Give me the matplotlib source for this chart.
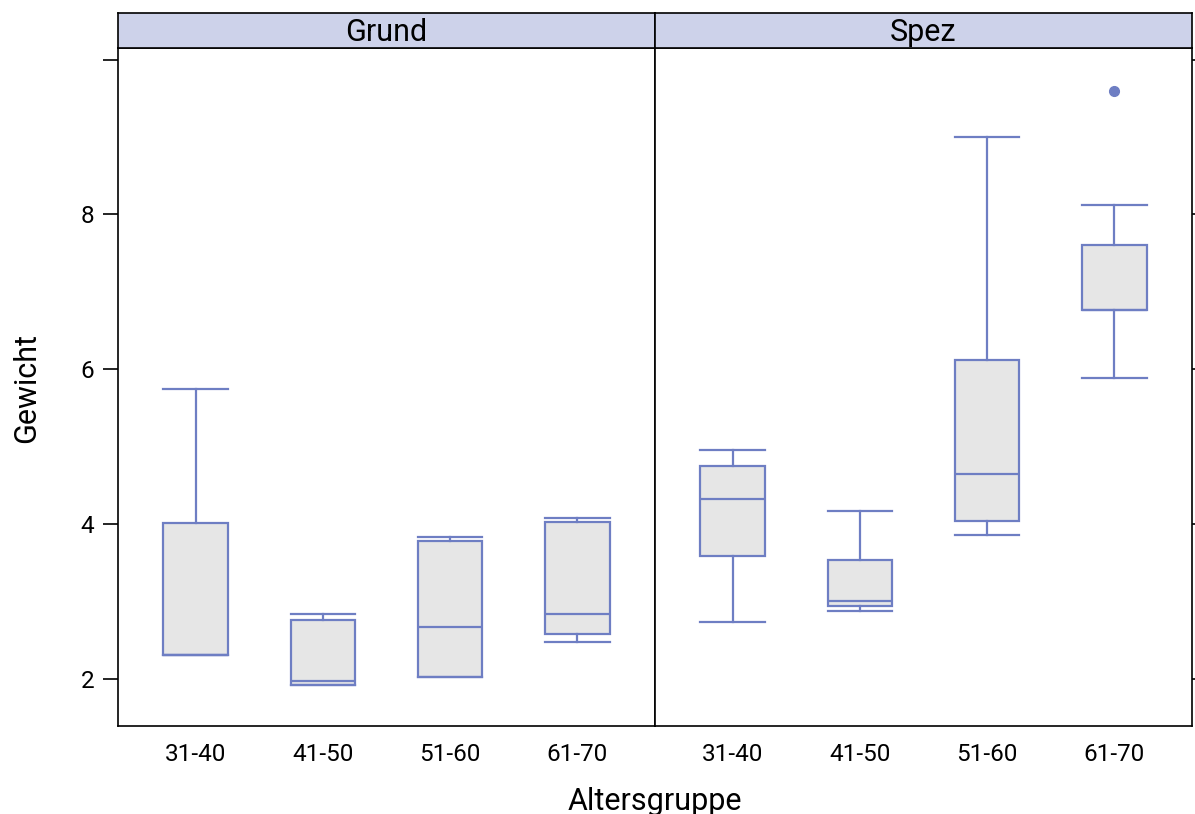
import matplotlib
matplotlib.use("Agg")
import matplotlib.pyplot as plt

plt.rcParams['font.family'] = ['Roboto', 'DejaVu Sans']

groups = ["31-40", "41-50", "51-60", "61-70"]
panels = ["Grund", "Spez"]

# five-number summaries per panel: [min whisker, Q1, median, Q3, max whisker]
grund_lo  = [2.31, 1.92, 2.02, 2.47]
grund_q1  = [2.31, 1.92, 2.02, 2.58]
grund_med = [2.31, 1.97, 2.67, 2.84]
grund_q3  = [4.01, 2.76, 3.78, 4.02]
grund_hi  = [5.75, 2.84, 3.83, 4.08]
grund_out = [[], [], [], []]

spez_lo  = [2.73, 2.87, 3.86, 5.88]
spez_q1  = [3.59, 2.94, 4.04, 6.77]
spez_med = [4.32, 3.00, 4.64, 6.77]
spez_q3  = [4.75, 3.53, 6.12, 7.60]
spez_hi  = [4.96, 4.17, 9.00, 8.12]
spez_out = [[], [], [], [9.60]]

data = {
    "Grund": (grund_lo, grund_q1, grund_med, grund_q3, grund_hi, grund_out),
    "Spez": (spez_lo, spez_q1, spez_med, spez_q3, spez_hi, spez_out),
}

yticks = [2, 4, 6, 8, 10]
ytick_labels = ["2", "4", "6", "8", ""]

blue = "#6E7EC3"
fill = "#E6E6E6"
strip_col = "#CDD2EA"

W, H = 1195, 814
fig = plt.figure(figsize=(W / 100, H / 100), dpi=100)

left, right = 118 / W, 1192 / W
bottom, top = 1 - 726 / H, 1 - 48 / H
strip_top = 1 - 13 / H
pw = (right - left) / 2

for i, name in enumerate(panels):
    ax = fig.add_axes([left + i * pw, bottom, pw, top - bottom])
    lo, q1, med, q3, hi, out = data[name]
    stats = []
    for j in range(len(groups)):
        stats.append(dict(whislo=lo[j], q1=q1[j], med=med[j], q3=q3[j],
                          whishi=hi[j], fliers=out[j], label=groups[j]))
    ax.bxp(stats, positions=range(1, len(groups) + 1), widths=0.506,
           patch_artist=True, showfliers=True,
           boxprops=dict(facecolor=fill, edgecolor=blue, linewidth=1.6),
           medianprops=dict(color=blue, linewidth=1.6),
           whiskerprops=dict(color=blue, linewidth=1.6, linestyle='-'),
           capprops=dict(color=blue, linewidth=1.6),
           capwidths=0.506,
           flierprops=dict(marker='o', markerfacecolor=blue, markeredgecolor=blue,
                           markersize=7))
    ax.set_xlim(0.39, 4.61)
    ax.set_ylim(1.39, 10.15)
    for s in ax.spines.values():
        s.set_linewidth(1.2)
        s.set_color("black")
    ax.set_yticks(yticks)
    ax.tick_params(axis='x', length=0, labelsize=17.5, pad=12)
    if i == 0:
        ax.set_yticklabels(ytick_labels)
        ax.tick_params(axis='y', direction='out', length=11, width=1.2,
                       labelsize=17.5, pad=6, left=True, right=False)
    else:
        ax.tick_params(axis='y', direction='out', length=11, width=1.2,
                       left=False, right=True, labelleft=False)
    # strip
    sax = fig.add_axes([left + i * pw, top, pw, strip_top - top])
    sax.set_xticks([]); sax.set_yticks([])
    sax.set_facecolor(strip_col)
    for s in sax.spines.values():
        s.set_linewidth(1.2)
    sax.text(0.5, 0.45, name, ha='center', va='center', fontsize=22,
             transform=sax.transAxes)

fig.text(27 / W, 1 - 388 / H, "Gewicht", rotation=90, ha='center', va='center',
         fontsize=22)
fig.text((left + right) / 2, 1 - 801 / H, "Altersgruppe", ha='center',
         va='center', fontsize=22)

fig.savefig("out.png", dpi=100, facecolor="white")
